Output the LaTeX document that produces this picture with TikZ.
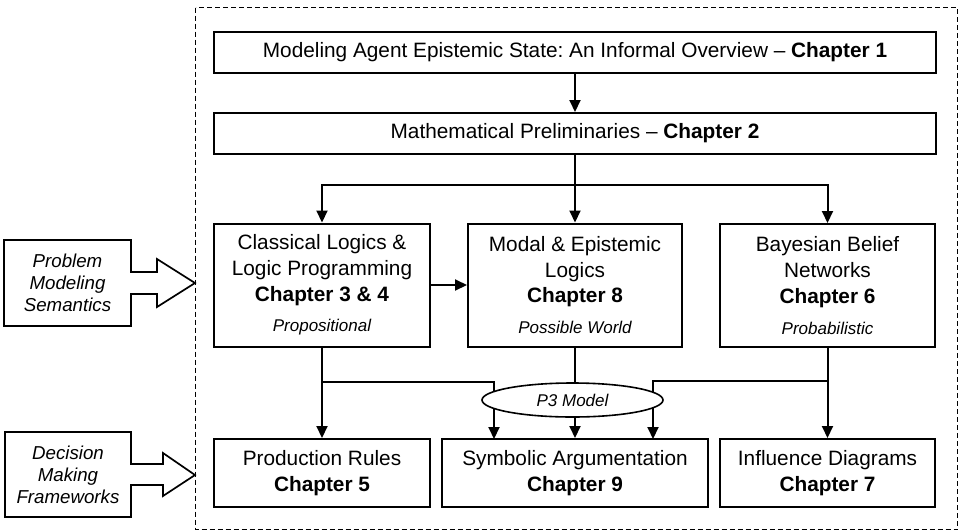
\documentclass[tikz,border=0pt]{standalone}
\usepackage{fontspec}
\setmainfont{Liberation Sans}
\usetikzlibrary{arrows.meta,shapes.geometric}
\frenchspacing
\newcommand{\subit}{\fontsize{17}{20}\selectfont\itshape}
\begin{document}
\begin{tikzpicture}[x=1pt,y=-1pt,
  box/.style={draw,line width=2pt,inner sep=0pt,align=center,font=\fontsize{20.8}{25.8}\selectfont},
  arr/.style={line width=2pt,-{Triangle[length=12pt,width=11pt]}},
  side/.style={line width=1.7pt,line join=miter},
  sidetext/.style={align=center,font=\fontsize{18.7}{22}\selectfont\itshape},
  subtext/.style={font=\subit}]
\useasboundingbox (0,0) rectangle (959,531);
\draw[line width=1pt,dash pattern=on 5pt off 3pt] (195.5,7.5) rectangle (957.5,529.5);

\node[box,minimum width=722pt,minimum height=41pt] (top) at (575,52.5)
  {Modeling Agent Epistemic State: An Informal Overview – \textbf{Chapter 1}};
\node[box,minimum width=722pt,minimum height=41pt] (math) at (575,133.5)
  {Mathematical Preliminaries – \textbf{Chapter 2}};
\node[box,minimum width=216pt,minimum height=123pt] (classical) at (322,285)
  {Classical Logics \&\\Logic Programming\\\textbf{Chapter 3 \& 4}\\[5pt]{\subit Propositional}};
\node[box,minimum width=214pt,minimum height=123pt] (modal) at (575,285)
  {Modal \& Epistemic\\Logics\\\textbf{Chapter 8}\\[5pt]{\subit Possible World}};
\node[box,minimum width=215pt,minimum height=123pt] (bayes) at (827.5,285.5)
  {Bayesian Belief\\Networks\\\textbf{Chapter 6}\\[5pt]{\subit Probabilistic}};
\node[box,minimum width=216pt,minimum height=68pt] (prod) at (322,473)
  {Production Rules\\\textbf{Chapter 5}};
\node[box,minimum width=266pt,minimum height=68pt] (symb) at (575,473)
  {Symbolic Argumentation\\\textbf{Chapter 9}};
\node[box,minimum width=215pt,minimum height=68pt] (infl) at (827.5,473)
  {Influence Diagrams\\\textbf{Chapter 7}};

\coordinate (split) at (575,185);
\coordinate (jl) at (322,382);
\coordinate (jr) at (827.5,381);
\coordinate (sl) at (494,439);
\coordinate (sr) at (653,439);

\draw[arr] (top.south) -- (math.north);
\draw[arr] (math.south) -- (modal.north);
\draw[arr] (split) -| (classical.north);
\draw[arr] (split) -| (bayes.north);
\draw[arr] (classical.east) -- (modal.west);
\draw[arr] (classical.south) -- (prod.north);
\draw[arr] (jl) -| (sl);
\draw[arr] (modal.south) -- (symb.north);
\draw[arr] (bayes.south) -- (infl.north);
\draw[arr] (jr) -| (sr);

\node[draw,ellipse,fill=white,line width=1.6pt,minimum width=181pt,minimum height=34pt,inner sep=0pt,subtext] (p3) at (572.5,400) {P3 Model};

\draw[side] (4,240) -- (131,240) -- (131,272) -- (157,272) -- (157,259) -- (195,283) -- (157,307) -- (157,294) -- (131,294) -- (131,326) -- (4,326) -- cycle;
\node[sidetext] (pms) at (67.5,283) {Problem\\Modeling\\Semantics};
\draw[side] (5,432) -- (131,432) -- (131,464) -- (163,464) -- (163,453) -- (195,475) -- (163,496) -- (163,485) -- (131,485) -- (131,517) -- (5,517) -- cycle;
\node[sidetext] (dmf) at (68,474.5) {Decision\\Making\\Frameworks};
\end{tikzpicture}
\end{document}
